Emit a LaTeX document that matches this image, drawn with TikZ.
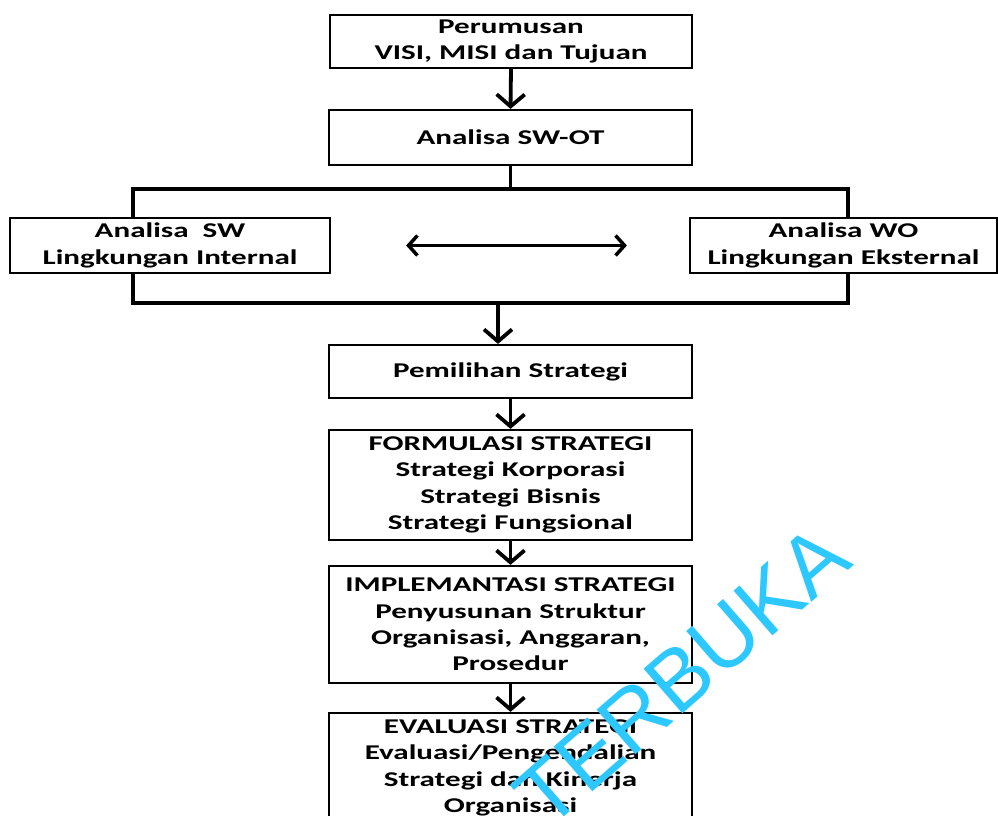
\documentclass[tikz,border=0pt]{standalone}
\usepackage{fontspec}
\setmainfont{Carlito}[FakeStretch=1.48]
\newfontfamily\tandaair{Liberation Sans}
\usepackage{tikz}
\usetikzlibrary{calc,shapes,arrows,arrows.meta}
\definecolor{birumuda}{RGB}{45,200,255}

\begin{document}
\begin{tikzpicture}[x=1pt,y=-1pt,
    kotak/.style={draw,line width=2.2pt,fill=white,inner sep=0pt,align=center,
        font=\fontsize{21}{26.3}\selectfont\bfseries},
    panah/.style={line width=3.8pt,-{Straight Barb[length=12pt,width=28pt]}},
    garis/.style={line width=3.8pt,line cap=rect}]
        \useasboundingbox (0,0) rectangle (998,816);
        \clip (0,0) rectangle (998,816);
        % kerangka SW - WO
        \coordinate (ka) at (133,189);
        \coordinate (kb) at (848,303);
        \draw[garis] (ka) rectangle (kb);
        \coordinate (turun) at (498,303);
        % kotak-kotak
        \node[kotak,minimum width=362pt,minimum height=53pt] (visi) at (511,41.5)
            {Perumusan\\VISI, MISI dan Tujuan};
        \node[kotak,minimum width=363pt,minimum height=55pt] (swot) at (510.5,137.5)
            {Analisa SW-OT};
        \node[kotak,minimum width=320pt,minimum height=55pt] (sw) at (170,245.5)
            {Analisa\ \ SW\\Lingkungan Internal};
        \node[kotak,minimum width=307pt,minimum height=55pt] (wo) at (843.5,245.5)
            {Analisa WO\\Lingkungan Eksternal};
        \node[kotak,minimum width=363pt,minimum height=53pt] (pilih) at (510.5,371.5)
            {Pemilihan Strategi};
        \node[kotak,minimum width=363pt,minimum height=110pt] (formulasi) at (510.5,485)
            {FORMULASI STRATEGI\\Strategi Korporasi\\Strategi Bisnis\\Strategi Fungsional};
        \node[kotak,minimum width=363pt,minimum height=117pt] (implementasi) at (510.5,624.5)
            {IMPLEMANTASI STRATEGI\\Penyusunan Struktur\\Organisasi, Anggaran,\\Prosedur};
        \node[kotak,minimum width=363pt,minimum height=110pt] (evaluasi) at (510.5,768)
            {EVALUASI STRATEGI\\Evaluasi/Pengendalian\\Strategi dan Kinerja\\Organisasi};
        % panah
        \draw[panah] (visi.south) -- (swot.north);
        \draw[garis] (swot.south) -- (swot.south |- ka);
        \draw[line width=3.5pt,{Straight Barb[length=9pt,width=20pt]}-{Straight Barb[length=9pt,width=20pt]},
            shorten <=75pt,shorten >=62pt] (sw.east) -- (wo.west);
        \draw[panah] (turun) -- (turun |- pilih.north);
        \draw[panah] (pilih.south) -- (formulasi.north);
        \draw[panah] (formulasi.south) -- (implementasi.north);
        \draw[panah] (implementasi.south) -- (evaluasi.north);
        % tanda air
        \node[rotate=41,text=birumuda,font=\tandaair\fontsize{86}{86}\selectfont] (tanda)
            at (682,676) {TERBUKA};
    \end{tikzpicture}
\end{document}
